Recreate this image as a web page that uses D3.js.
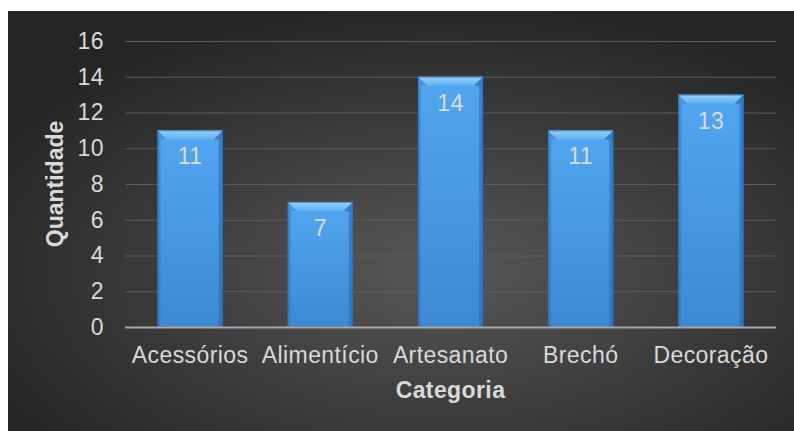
<!DOCTYPE html>
<html>
<head>
<meta charset="utf-8">
<script src="https://cdn.jsdelivr.net/npm/d3@7"></script>
<style>
  html, body { margin: 0; padding: 0; background: #ffffff; }
  svg { display: block; }
  text { font-family: "Liberation Sans", Arial, sans-serif; }
</style>
</head>
<body>
<svg id="chart" width="794" height="431"></svg>
<script>
// Quantidade por categoria
const categories = ["Acessórios", "Alimentício", "Artesanato", "Brechó", "Decoração"];
const values = [11, 7, 14, 11, 13];
const yTicks = [0, 2, 4, 6, 8, 10, 12, 14, 16];
const xTitle = "Categoria";
const yTitle = "Quantidade";

const panel = { x: 8, y: 11, w: 786, h: 420 };
const plot = { left: 125, right: 776, top: 41, bottom: 327 };
const FS = 23;
const LS = 0.4;

const svg = d3.select("#chart");
const defs = svg.append("defs");

// dark panel background with a soft central glow
const bg = defs.append("radialGradient").attr("id", "bgGrad")
  .attr("cx", "55%").attr("cy", "62%").attr("r", "65%");
bg.append("stop").attr("offset", "0%").attr("stop-color", "#575757");
bg.append("stop").attr("offset", "100%").attr("stop-color", "#252525");

// bar body gradient
const barG = defs.append("linearGradient").attr("id", "barGrad")
  .attr("x1", 0).attr("y1", 0).attr("x2", 0).attr("y2", 1);
barG.append("stop").attr("offset", "0%").attr("stop-color", "#52a6f0");
barG.append("stop").attr("offset", "100%").attr("stop-color", "#3d89d3");

// top bevel gradient
const bevelG = defs.append("linearGradient").attr("id", "bevelGrad")
  .attr("x1", 0).attr("y1", 0).attr("x2", 0).attr("y2", 1);
bevelG.append("stop").attr("offset", "0%").attr("stop-color", "#9ad0fa");
bevelG.append("stop").attr("offset", "100%").attr("stop-color", "#5eb0f4");

svg.append("rect")
  .attr("x", panel.x).attr("y", panel.y)
  .attr("width", panel.w).attr("height", panel.h)
  .attr("fill", "url(#bgGrad)");

const x = d3.scaleBand()
  .domain(categories)
  .range([plot.left, plot.right])
  .paddingInner(0.5)
  .paddingOuter(0.25);

const y = d3.scaleLinear()
  .domain([0, 16])
  .range([plot.bottom, plot.top]);

// horizontal gridlines
svg.append("g")
  .selectAll("line")
  .data(yTicks.filter(t => t > 0))
  .join("line")
  .attr("x1", plot.left).attr("x2", plot.right)
  .attr("y1", d => y(d) + 0.5).attr("y2", d => y(d) + 0.5)
  .attr("stroke", "#5c5c5c").attr("stroke-width", 1);

// y axis tick labels
const yAxis = d3.axisLeft(y).tickValues(yTicks).tickSize(0).tickPadding(0);
const yg = svg.append("g")
  .attr("transform", `translate(${plot.left - 21},0)`)
  .call(yAxis);
yg.select(".domain").remove();
yg.selectAll("text")
  .attr("fill", "#d9d9d9")
  .attr("font-size", FS)
  .attr("letter-spacing", LS)
  .attr("font-family", "Liberation Sans, Arial, sans-serif");

// bars
const bw = x.bandwidth();
const bevel = 9;
const bars = svg.append("g").selectAll("g").data(categories).join("g");

bars.append("rect")
  .attr("x", d => x(d)).attr("y", (d, i) => y(values[i]))
  .attr("width", bw).attr("height", (d, i) => y(0) - y(values[i]))
  .attr("fill", "url(#barGrad)");

// darker side edges
bars.append("rect")
  .attr("x", d => x(d)).attr("y", (d, i) => y(values[i]) + bevel)
  .attr("width", 3).attr("height", (d, i) => y(0) - y(values[i]) - bevel)
  .attr("fill", "#2f74bd").attr("opacity", 0.45);
bars.append("rect")
  .attr("x", d => x(d) + bw - 4).attr("y", (d, i) => y(values[i]) + bevel)
  .attr("width", 4).attr("height", (d, i) => y(0) - y(values[i]) - bevel)
  .attr("fill", "#2a6bb0").attr("opacity", 0.6);

// top bevel
bars.append("path")
  .attr("d", (d, i) => {
    const x0 = x(d), x1 = x(d) + bw, t = y(values[i]);
    return `M${x0},${t}L${x1},${t}L${x1 - bevel},${t + bevel}L${x0 + bevel},${t + bevel}Z`;
  })
  .attr("fill", "url(#bevelGrad)");
// bevel corner shading
bars.append("path")
  .attr("d", (d, i) => {
    const x0 = x(d), t = y(values[i]);
    return `M${x0},${t}L${x0 + bevel},${t + bevel}L${x0},${t + bevel}Z`;
  })
  .attr("fill", "#3c88d4").attr("opacity", 0.6);
bars.append("path")
  .attr("d", (d, i) => {
    const x1 = x(d) + bw, t = y(values[i]);
    return `M${x1},${t}L${x1 - bevel},${t + bevel}L${x1},${t + bevel}Z`;
  })
  .attr("fill", "#2a6bb0").attr("opacity", 0.7);

// outline
bars.append("rect")
  .attr("x", d => x(d) + 0.5).attr("y", (d, i) => y(values[i]) + 0.5)
  .attr("width", bw - 1).attr("height", (d, i) => y(0) - y(values[i]) - 1)
  .attr("fill", "none").attr("stroke", "#2d6fb4").attr("stroke-width", 1).attr("stroke-opacity", 0.7);

// value labels inside bars
bars.append("text")
  .attr("x", d => x(d) + bw / 2)
  .attr("y", (d, i) => y(values[i]) + 34)
  .attr("text-anchor", "middle")
  .attr("font-size", FS)
  .attr("letter-spacing", LS)
  .attr("fill", "#dcdcdc")
  .text((d, i) => values[i]);

// baseline axis
svg.append("line")
  .attr("x1", plot.left).attr("x2", plot.right)
  .attr("y1", y(0) + 0.5).attr("y2", y(0) + 0.5)
  .attr("stroke", "#a8a8a8").attr("stroke-width", 2);

// category labels
const xAxis = d3.axisBottom(x).tickSize(0).tickPadding(0);
const xg = svg.append("g")
  .attr("transform", `translate(0,${y(0) + 36})`)
  .call(xAxis);
xg.select(".domain").remove();
xg.selectAll("text")
  .attr("dy", 0)
  .attr("fill", "#d9d9d9")
  .attr("font-size", FS)
  .attr("letter-spacing", LS)
  .attr("font-family", "Liberation Sans, Arial, sans-serif");

// axis titles
svg.append("text")
  .attr("x", (plot.left + plot.right) / 2)
  .attr("y", 398)
  .attr("text-anchor", "middle")
  .attr("font-size", FS)
  .attr("letter-spacing", LS)
  .attr("font-weight", "bold")
  .attr("fill", "#d9d9d9")
  .text(xTitle);

svg.append("text")
  .attr("transform", `translate(63,${(plot.top + plot.bottom) / 2}) rotate(-90)`)
  .attr("text-anchor", "middle")
  .attr("font-size", FS)
  .attr("font-weight", "bold")
  .attr("fill", "#d9d9d9")
  .text(yTitle);
</script>
</body>
</html>
